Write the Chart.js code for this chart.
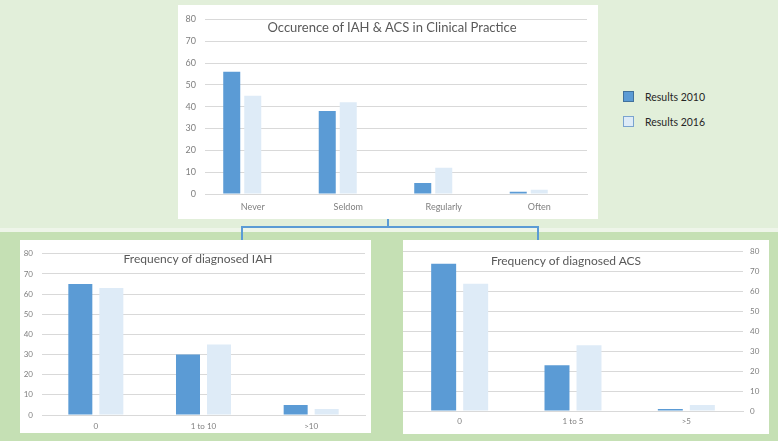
<!DOCTYPE html>
<html>
<head>
<meta charset="utf-8">
<script src="https://cdn.jsdelivr.net/npm/chart.js"></script>
<style>
  body { margin: 0; width: 778px; height: 441px; position: relative; overflow: hidden;
         background: #c5e0b4; font-family: Lato, "Liberation Sans", sans-serif; }
  .top-bg { position: absolute; left: 0; top: 0; width: 778px; height: 228px; background: #e2efda; }
  .band { position: absolute; left: 0; top: 228px; width: 778px; height: 4px; background: #eef5e9; }
  .box { position: absolute; background: #fff; }
  .line { position: absolute; background: #5b9bd5; }
  canvas { position: absolute; }
  .title { position: absolute; transform: translate(-50%, -50%); color: #595959; white-space: nowrap; }
  .key { position: absolute; width: 9px; height: 9px; }
  .key-label { position: absolute; font-size: 10.5px; color: #262626; transform: translateY(-50%); white-space: nowrap; }
</style>
</head>
<body>
<div class="top-bg"></div>
<div class="band"></div>

<!-- white chart boxes -->
<div class="box" style="left:178px; top:5px; width:420px; height:214px;"></div>
<div class="box" style="left:20px; top:240px; width:351px; height:193px;"></div>
<div class="box" style="left:403px; top:240px; width:366px; height:194px;"></div>

<!-- bracket joining the top chart to the two lower ones -->
<div class="line" style="left:387px; top:219px; width:2px; height:9px;"></div>
<div class="line" style="left:241px; top:226px; width:298px; height:2px;"></div>
<div class="line" style="left:241px; top:226px; width:2px; height:14px;"></div>
<div class="line" style="left:537px; top:226px; width:2px; height:14px;"></div>

<canvas id="occurrence" width="420" height="214" style="left:178px; top:5px;"></canvas>
<canvas id="iah" width="351" height="193" style="left:20px; top:240px;"></canvas>
<canvas id="acs" width="366" height="194" style="left:403px; top:240px;"></canvas>

<div class="title" style="left:392px; top:27px; font-size:13px;">Occurence of IAH &amp; ACS in Clinical Practice</div>
<div class="title" style="left:198px; top:258px; font-size:12px;">Frequency of diagnosed IAH</div>
<div class="title" style="left:566px; top:260px; font-size:12px;">Frequency of diagnosed ACS</div>

<div class="key" style="left:623px; top:91px; background:#5b9bd5; border:1px solid #41719c;"></div>
<div class="key-label" style="left:645px; top:97px;">Results 2010</div>
<div class="key" style="left:623px; top:116px; background:#deebf7; border:1px solid #7aa3cf;"></div>
<div class="key-label" style="left:645px; top:122px;">Results 2016</div>

<script>
// values
const occurrenceLabels = ['Never', 'Seldom', 'Regularly', 'Often'];
const occurrence2010 = [56, 38, 5, 1];
const occurrence2016 = [45, 42, 12, 2];
const occurrenceEmpty = [null, null, null, null]; // original chart keeps room for a 3rd series

const iahLabels = ['0', '1 to 10', '>10'];
const iah2010 = [65, 30, 5];
const iah2016 = [63, 35, 3];

const acsLabels = ['0', '1 to 5', '>5'];
const acs2010 = [74, 23, 1];
const acs2016 = [64, 33, 3];

const yMin = 0;
const yMax = 80;
const yStep = 10;

const DARK = '#5b9bd5';
const LIGHT = '#deebf7';

Chart.defaults.font.family = 'Lato, "Liberation Sans", sans-serif';

function series(label, data, color, cfg) {
    return {
        label: label,
        data: data,
        backgroundColor: color,
        borderWidth: 0,
        categoryPercentage: cfg.catPct,
        barPercentage: cfg.barPct,
    };
}

function barChart(id, labels, datasets, cfg) {
    return new Chart(document.getElementById(id), {
        type: 'bar',
        data: { labels: labels, datasets: datasets },
        options: {
            responsive: false,
            animation: false,
            layout: { padding: cfg.padding },
            plugins: {
                legend: { display: false },
                tooltip: { enabled: false },
            },
            scales: {
                x: {
                    grid: { display: false, drawTicks: false },
                    border: { color: '#d9d9d9' },
                    ticks: { color: '#7f7f7f', font: { size: cfg.fontSize }, padding: cfg.xPad, maxRotation: 0 },
                    afterFit: (scale) => { scale.height = cfg.xHeight; },
                },
                y: {
                    position: cfg.yPos,
                    min: yMin,
                    max: yMax,
                    grid: { color: '#d9d9d9', drawTicks: false },
                    border: { display: false },
                    ticks: { stepSize: yStep, color: '#7f7f7f', font: { size: cfg.fontSize }, padding: cfg.yPad },
                    afterFit: (scale) => { scale.width = cfg.yWidth; },
                },
            },
        },
    });
}

const topCfg = { padding: { top: 8, right: 11 }, yPos: 'left', yWidth: 27, xHeight: 25,
                 yPad: 9, xPad: 8, fontSize: 9, catPct: 0.66, barPct: 0.81 };
barChart('occurrence', occurrenceLabels, [
    series('Results 2010', occurrence2010, DARK, topCfg),
    series('Results 2016', occurrence2016, LIGHT, topCfg),
    series('', occurrenceEmpty, LIGHT, topCfg),
], topCfg);

const iahCfg = { padding: { top: 11, right: 6 }, yPos: 'left', yWidth: 22, xHeight: 18,
                 yPad: 9, xPad: 7, fontSize: 8, catPct: 0.576, barPct: 0.774 };
barChart('iah', iahLabels, [
    series('Results 2010', iah2010, DARK, iahCfg),
    series('Results 2016', iah2016, LIGHT, iahCfg),
], iahCfg);

const acsCfg = { padding: { top: 10 }, yPos: 'right', yWidth: 26, xHeight: 23,
                 yPad: 7, xPad: 6, fontSize: 8, catPct: 0.565, barPct: 0.78 };
barChart('acs', acsLabels, [
    series('Results 2010', acs2010, DARK, acsCfg),
    series('Results 2016', acs2016, LIGHT, acsCfg),
], acsCfg);
</script>
</body>
</html>
